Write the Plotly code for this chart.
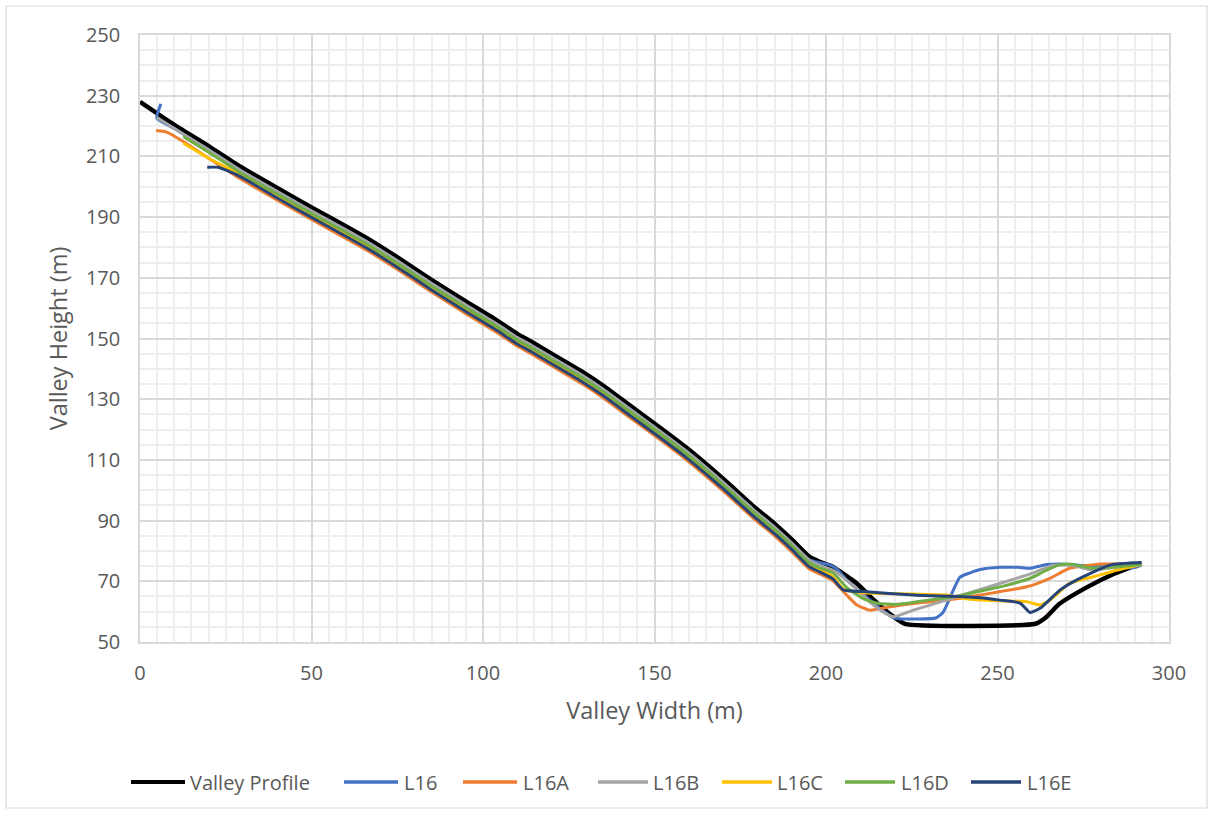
import plotly.graph_objects as go

# ---- data -------------------------------------------------------------
valley_x = [0, 10, 20, 29, 40, 50, 60, 67, 75, 85, 95, 104, 110, 114, 120, 129, 135, 143, 150,
            159, 170, 179, 185, 190, 195, 198, 202, 205, 209, 214, 219, 223, 261, 264, 268, 276, 284, 292]
valley_y = [228, 220.4, 213.4, 206.8, 199.6, 193.2, 187, 182.5, 176.8, 169.3, 162.2, 156, 151.5, 149, 145,
            139, 134.5, 127.8, 122, 114.3, 103.8, 94.6, 89, 83.8, 78.2, 76.5, 74.8, 72.5, 69.3, 63.8, 58.9,
            56, 56, 58, 62.5, 68, 72.5, 76]

l16_x = [6.1, 4.9, 10, 20, 29, 40, 50, 60, 67, 75, 85, 95, 104, 110, 114, 120, 129, 135, 143, 150, 159,
         170, 179, 185, 190, 195, 198, 201, 203, 206, 211, 215, 219.6, 222, 232, 234.2, 239, 242, 245,
         250.7, 256, 259.5, 264.3, 268, 275, 282, 290, 292]
l16_y = [227.3, 222.6, 219.2, 212.2, 205.6, 198.4, 192.0, 185.8, 181.3, 175.6, 168.1, 161.0, 154.8, 150.3,
         147.8, 143.8, 137.8, 133.3, 126.6, 120.8, 113.1, 102.6, 93.4, 87.8, 82.6, 77.2, 76.2, 75.4, 74.2,
         70.5, 65.5, 61.8, 58, 57.6, 57.9, 59.9, 71.3, 72.8, 73.9, 74.6, 74.6, 74.3, 75.5, 75.7, 75.2,
         74.8, 74.5, 75.4]

l16a_x = [4.7, 7.8, 12.6, 20, 29, 40, 50, 60, 67, 75, 85, 95, 104, 110, 114, 120, 129, 135, 143, 150, 159,
          170, 179, 185, 190, 195, 198, 202, 206, 209, 212.8, 218.7, 225.5, 235.2, 245, 258.5, 265.3, 271,
          280, 292]
l16a_y = [218.5, 218, 214.9, 209.4, 202.8, 195.6, 189.2, 183.0, 178.5, 172.8, 165.3, 158.2, 152.0, 147.5,
          145.0, 141.0, 135.0, 130.5, 123.8, 118.0, 110.3, 99.8, 90.6, 85.0, 79.8, 74.2, 72.5, 70.2, 65.5,
          62.2, 60.5, 61.6, 62.7, 63.8, 65.5, 68.2, 71, 74.3, 75.7, 75.8]

l16b_x = [4.9, 10, 20, 29, 40, 50, 60, 67, 75, 85, 95, 104, 110, 114, 120, 129, 135, 143, 150, 159, 170,
          179, 185, 190, 195, 198, 202, 205, 209, 213, 216.5, 219.6, 225.5, 235, 245, 255, 260, 266.3, 272,
          278, 287.7, 292]
l16b_y = [222.8, 219.2, 212.2, 205.6, 198.4, 192.0, 185.8, 181.3, 175.6, 168.1, 161.0, 154.8, 150.3, 147.8,
          143.8, 137.8, 133.3, 126.6, 120.8, 113.1, 102.6, 93.4, 87.8, 82.6, 77, 75.3, 73.6, 71.3, 67.3, 63,
          60, 58.3, 60.5, 63.8, 67.3, 70.8, 72.6, 75.3, 75.2, 73.7, 75.3, 76]

l16c_x = [12.6, 20, 29, 40, 50, 60, 67, 75, 85, 95, 104, 110, 114, 120, 129, 135, 143, 150, 159, 170, 179,
          185, 190, 195, 198, 202, 205, 210, 216, 225, 235, 239, 245, 258.5, 262.4, 265.3, 271, 278, 285, 292]
l16c_y = [214.4, 209.4, 204.2, 197.0, 190.6, 184.4, 179.9, 174.2, 166.7, 159.6, 153.4, 148.9, 146.4, 142.4,
          136.4, 131.9, 125.2, 119.4, 111.7, 101.2, 92.0, 86.4, 81.2, 75.6, 73.9, 71.5, 67.5, 66.3, 66,
          65.8, 65.5, 64.6, 63.8, 63.3, 62.2, 63.8, 69.3, 71.5, 73.7, 75.5]

l16d_x = [12.6, 20, 29, 40, 50, 60, 67, 75, 85, 95, 104, 110, 114, 120, 129, 135, 143, 150, 159, 170, 179,
          185, 190, 195, 198, 202, 206, 211, 215, 220.6, 230, 240, 245, 252, 259.5, 264, 268, 271, 278, 285,
          292]
l16d_y = [216.6, 211.4, 204.8, 197.6, 191.2, 185.0, 180.5, 174.8, 167.3, 160.2, 154.0, 149.5, 147.0, 143.0,
          137.0, 132.5, 125.8, 120.0, 112.3, 101.8, 92.6, 87.0, 81.8, 76.2, 74.5, 72.8, 68, 64.2, 62.8,
          62.4, 63.8, 65.5, 66.8, 68.5, 71, 73.5, 75.4, 75.7, 74.3, 74.8, 75.5]

l16e_x = [19.6, 22.8, 29, 40, 50, 60, 67, 75, 85, 95, 104, 110, 114, 120, 129, 135, 143, 150, 159, 170, 179,
          185, 190, 195, 198, 202, 205, 211, 225.5, 245, 250.7, 256.6, 259.5, 262.4, 268.2, 273, 283, 292]
l16e_y = [206.4, 206.4, 203.5, 196.3, 189.9, 183.7, 179.2, 173.5, 166.0, 158.9, 152.7, 148.2, 145.7, 141.7,
          135.7, 131.2, 124.5, 118.7, 111.0, 100.5, 91.3, 85.7, 80.5, 74.9, 73.2, 70.8, 67.2, 66.6, 65.5,
          64.6, 63.8, 62.8, 59.7, 61.1, 67.1, 70.4, 75.4, 76.2]

series_names = ["Valley Profile", "L16", "L16A", "L16B", "L16C", "L16D", "L16E"]
series_x = [valley_x, l16_x, l16a_x, l16b_x, l16c_x, l16d_x, l16e_x]
series_y = [valley_y, l16_y, l16a_y, l16b_y, l16c_y, l16d_y, l16e_y]
series_colors = ["#000000", "#4472C4", "#ED7D31", "#A5A5A5", "#FFC000", "#70AD47", "#264478"]
series_widths = [4.5, 3, 3, 3, 3, 3, 3]

# ---- figure geometry (pixels) ----------------------------------------------
W, H = 1213, 814
PL, PR, PT, PB = 140, 1169, 35, 642          # plot area edges
PW, PH = PR - PL, PB - PT


def px_x(p):
    return (p - PL) / PW


def px_y(p):
    return (PB - p) / PH


FONT = "Open Sans"
TEXT = "#595959"

fig = go.Figure()
for name, xs, ys, col, w in zip(series_names, series_x, series_y, series_colors, series_widths):
    fig.add_trace(go.Scatter(
        x=xs, y=ys, name=name, mode="lines",
        line=dict(color=col, width=w, shape="spline", smoothing=0.5),
        showlegend=False,
    ))

# legend drawn below the axis: a line sample and a label per series
legend_line_x = [(131, 185), (344, 398), (463, 517), (598, 648), (722, 772), (845, 895), (971, 1021)]
legend_text_x = [188, 402, 521, 651, 775, 899, 1025]
legend_y = 782
shapes = []
annotations = []
for name, col, w, (a, b), tx in zip(series_names, series_colors, series_widths, legend_line_x, legend_text_x):
    shapes.append(dict(type="line", xref="paper", yref="paper",
                       x0=px_x(a), x1=px_x(b), y0=px_y(legend_y), y1=px_y(legend_y),
                       line=dict(color=col, width=4 if w > 3 else 3.5)))
    annotations.append(dict(xref="paper", yref="paper", x=px_x(tx), y=px_y(legend_y),
                            xanchor="left", yanchor="middle", showarrow=False, text=name,
                            font=dict(family=FONT, size=20, color=TEXT)))

# chart border
shapes.append(dict(type="rect", xref="paper", yref="paper", layer="below",
                   x0=px_x(6), x1=px_x(1207), y0=px_y(808), y1=px_y(6),
                   line=dict(color="#d9d9d9", width=1.2), fillcolor="rgba(0,0,0,0)"))

axis_common = dict(
    showgrid=True, gridcolor="#d9d9d9", gridwidth=1.5,
    showline=True, linecolor="#d9d9d9", linewidth=1.5, mirror=True,
    zeroline=False, ticks="",
    tickfont=dict(family=FONT, size=20, color=TEXT),
)

fig.update_layout(
    width=W, height=H,
    margin=dict(l=PL, r=W - PR, t=PT, b=H - PB, autoexpand=False),
    paper_bgcolor="white", plot_bgcolor="white",
    shapes=shapes, annotations=annotations,
    xaxis=dict(range=[0, 300], dtick=50, tick0=0, ticklabelstandoff=12,
               minor=dict(dtick=5, showgrid=True, gridcolor="#eeeeee", gridwidth=1.5),
               title=dict(text="Valley Width (m)", standoff=18,
                          font=dict(family=FONT, size=23.5, color=TEXT)),
               **axis_common),
    yaxis=dict(range=[50, 250], dtick=20, tick0=50, ticklabelstandoff=14,
               minor=dict(dtick=5, showgrid=True, gridcolor="#eeeeee", gridwidth=1.5),
               title=dict(text="Valley Height (m)", standoff=12,
                          font=dict(family=FONT, size=23.5, color=TEXT)),
               **axis_common),
)

fig.write_html("out.html")
